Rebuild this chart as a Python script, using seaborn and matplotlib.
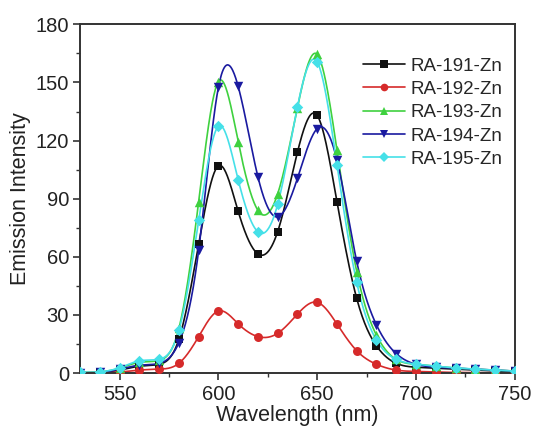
import numpy as np
import pandas as pd
import matplotlib
matplotlib.use("Agg")
import matplotlib.pyplot as plt
from matplotlib.lines import Line2D
from matplotlib.ticker import MultipleLocator
import seaborn as sns

# Emission spectra sampled every 10 nm
wavelength = [530, 540, 550, 560, 570, 580, 590, 600, 610, 620, 630, 640,
              650, 660, 670, 680, 690, 700, 710, 720, 730, 740, 750]

ra_191 = [0.2, 0.4, 1.5, 3.5, 4.5, 17.5, 66.5, 107, 83.5, 61.5, 73, 114,
          133, 88.5, 38.5, 14, 5, 3, 2.5, 2, 1.5, 1, 0.8]
ra_192 = [0.0, 0.2, 0.5, 1.5, 2.0, 5.0, 18.8, 32, 25.4, 18.8, 20.5, 30.4,
          36.5, 25.3, 11.5, 4.5, 1.5, 0.8, 0.5, 0.3, 0.2, 0.1, 0.0]
ra_193 = [0.2, 0.5, 2.5, 5.5, 6.5, 23, 88.4, 150.5, 119.5, 84, 92.5, 137,
          164.5, 115.2, 52.4, 19.5, 7, 4.5, 3.5, 2.5, 2, 1.5, 1]
ra_194 = [0.1, 0.3, 2.0, 4.0, 5.0, 15.6, 63.3, 147.5, 148, 101.3, 80.6, 100.5,
          126.2, 110, 57.6, 24.8, 10, 4.5, 3, 2.5, 2, 1.5, 1]
ra_195 = [0.3, 0.6, 2.7, 6.3, 7.1, 22, 78.8, 127.4, 99.8, 72.9, 87.1, 137.4,
          160.6, 107.6, 46.8, 17, 7, 4.6, 3.5, 2.7, 2, 1.5, 1]

sample_names = ["RA-191-Zn", "RA-192-Zn", "RA-193-Zn", "RA-194-Zn", "RA-195-Zn"]
series = [ra_191, ra_192, ra_193, ra_194, ra_195]
colors = ["#111111", "#d62a2a", "#3fd13f", "#1a1aa0", "#45e0e8"]
markers = ["s", "o", "^", "v", "D"]
marker_sizes = [34, 42, 46, 46, 34]


def natural_cubic_spline(x, y, xs):
    """Evaluate a natural cubic spline through (x, y) at xs."""
    x = np.asarray(x, float)
    y = np.asarray(y, float)
    n = len(x)
    h = np.diff(x)
    A = np.zeros((n, n))
    b = np.zeros(n)
    A[0, 0] = A[-1, -1] = 1.0
    for i in range(1, n - 1):
        A[i, i - 1] = h[i - 1]
        A[i, i] = 2 * (h[i - 1] + h[i])
        A[i, i + 1] = h[i]
        b[i] = 3 * ((y[i + 1] - y[i]) / h[i] - (y[i] - y[i - 1]) / h[i - 1])
    c = np.linalg.solve(A, b)
    idx = np.clip(np.searchsorted(x, xs) - 1, 0, n - 2)
    dx = xs - x[idx]
    hi = h[idx]
    bb = (y[idx + 1] - y[idx]) / hi - hi * (2 * c[idx] + c[idx + 1]) / 3
    dd = (c[idx + 1] - c[idx]) / (3 * hi)
    return y[idx] + bb * dx + c[idx] * dx ** 2 + dd * dx ** 3


points = pd.DataFrame({
    "Wavelength": np.tile(wavelength, len(series)),
    "Intensity": np.concatenate(series),
    "Sample": np.repeat(sample_names, len(wavelength)),
})

fine_x = np.linspace(wavelength[0], wavelength[-1], 881)
curves = pd.DataFrame({
    "Wavelength": np.tile(fine_x, len(series)),
    "Intensity": np.concatenate([natural_cubic_spline(wavelength, s, fine_x) for s in series]),
    "Sample": np.repeat(sample_names, len(fine_x)),
})

sns.set_theme(style="ticks")
plt.rcParams["font.family"] = ["Liberation Sans", "DejaVu Sans"]

fig = plt.figure(figsize=(5.34, 4.28), dpi=100)
ax = fig.add_axes([0.150, 0.1285, 0.814, 0.8145])

palette = dict(zip(sample_names, colors))
sns.lineplot(data=curves, x="Wavelength", y="Intensity", hue="Sample",
             palette=palette, linewidth=1.2, legend=False, ax=ax, zorder=2)
for name, mk, ms in zip(sample_names, markers, marker_sizes):
    sub = points[points["Sample"] == name]
    sns.scatterplot(data=sub, x="Wavelength", y="Intensity", color=palette[name],
                    marker=mk, s=ms, linewidth=0, legend=False, ax=ax, zorder=3)

ax.set_xlim(530, 750)
ax.set_ylim(0, 180)
ax.xaxis.set_major_locator(MultipleLocator(50))
ax.xaxis.set_minor_locator(MultipleLocator(25))
ax.yaxis.set_major_locator(MultipleLocator(30))
ax.yaxis.set_minor_locator(MultipleLocator(15))
ax.tick_params(which="major", direction="out", length=5, width=1.2,
               labelsize=14.5, colors="#333333", labelcolor="#222222", pad=3)
ax.tick_params(axis="x", which="major", pad=3.5)
ax.tick_params(which="minor", direction="out", length=3, width=1.0, colors="#333333")
ax.tick_params(top=False, right=False, which="both")
for sp in ax.spines.values():
    sp.set_visible(True)
    sp.set_linewidth(1.4)
    sp.set_color("#333333")

ax.set_xlabel("Wavelength (nm)", fontsize=15.5, color="#222222", labelpad=0.5)
ax.set_ylabel("Emission Intensity", fontsize=15.5, color="#222222", labelpad=3)

handles = [Line2D([0], [0], color=c, marker=m, markersize=5.5, linewidth=1.2,
                  markeredgewidth=0)
           for c, m in zip(colors, markers)]
ax.legend(handles, sample_names, loc="upper left", bbox_to_anchor=(0.65, 0.905),
          frameon=False, fontsize=13.5, handlelength=2.25, handletextpad=0.3,
          labelspacing=0.33, borderpad=0, borderaxespad=0)

fig.savefig("out.png", dpi=100)
